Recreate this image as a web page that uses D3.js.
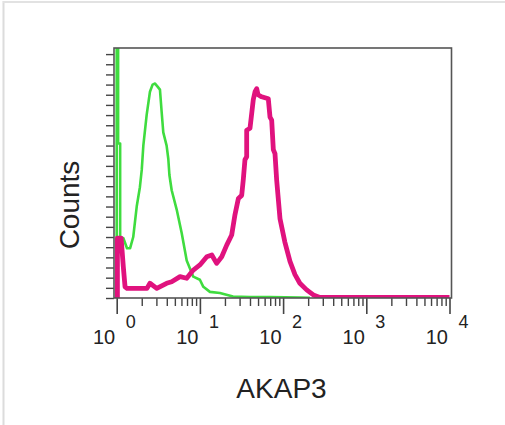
<!DOCTYPE html>
<html>
<head>
<meta charset="utf-8">
<script src="https://cdn.jsdelivr.net/npm/d3@7"></script>
<style>
  body { margin: 0; background: #fff; }
  text { font-family: "Liberation Sans", Arial, sans-serif; fill: #222; }
</style>
</head>
<body>
<svg id="chart" width="505" height="425"></svg>
<script>
// decades on the log intensity axis
const decades = [1, 10, 100, 1000, 10000];
const exponents = ['0', '1', '2', '3', '4'];

// isotype control (green)
const greenX = [1.0, 1.0, 1.04, 1.04, 1.1, 1.1, 1.2, 1.33, 1.45, 1.58, 1.74, 1.9, 2.0, 2.09, 2.29, 2.51, 2.7, 2.89, 3.1, 3.31, 3.47, 3.63, 3.98, 4.17, 4.3, 4.58, 5.26, 6.04, 6.94, 8.33, 10, 11, 13.2, 17.4, 25, 40, 69, 160, 210];
const greenY = [0, 270, 270, 152, 152, 59, 59, 49, 49, 60, 90, 109, 126, 150, 180, 203, 210, 211, 208, 205, 183, 163, 150, 137, 121, 106, 87, 64, 37, 21, 18, 11, 6, 5, 1.5, 1, 1, 0.5, 0.3];

// AKAP3 stained (magenta)
const magX = [1.0, 1.02, 1.02, 1.13, 1.2, 1.26, 1.33, 2.31, 2.51, 3.03, 3.98, 4.58, 5.77, 6.94, 8.33, 10, 12.1, 13.9, 15.9, 18.3, 21.0, 24.1, 26.4, 29.0, 31.8, 33.2, 34.8, 36.5, 36.5, 40, 42, 43.8, 46, 48.2, 50, 55.3, 66.4, 69.6, 72.9, 76.3, 79.9, 83.7, 86.8, 91.8, 105, 121, 139, 159, 192, 231, 277, 10000];
const magY = [0, 0, 59, 59, 31, 11, 9.5, 9.5, 14.5, 9.5, 14.5, 16, 21, 19.4, 27.5, 32.5, 40.6, 42.3, 34.1, 40.6, 52, 62, 82, 98, 101, 116, 136, 139, 165, 167, 182, 195, 203, 206, 200, 198, 196, 178, 175, 146, 142, 116, 101, 78, 55, 36, 23, 14.5, 8, 3, 0.5, 0.5];

const svg = d3.select('#chart');

// faint frame of the picture
svg.append('line').attr('x1', 3.5).attr('x2', 3.5).attr('y1', 1).attr('y2', 425)
    .attr('stroke', '#dcdcdc').attr('stroke-width', 2);
svg.append('line').attr('x1', 3).attr('x2', 505).attr('y1', 2).attr('y2', 2)
    .attr('stroke', '#e2e2e2').attr('stroke-width', 2);

const box = { left: 114, right: 451.5, top: 48, bottom: 298 };

const x = d3.scaleLog().domain([1, 10000]).range([116.7, 449.5]);
const y = d3.scaleLinear().domain([0, 246]).range([box.bottom, box.top]);

svg.append('clipPath').attr('id', 'clip')
    .append('rect')
    .attr('x', box.left).attr('y', box.top)
    .attr('width', box.right - box.left).attr('height', box.bottom - box.top);

// y ticks (no labels)
const yAxis = svg.append('g')
    .attr('transform', `translate(${box.left},0)`)
    .call(d3.axisLeft(y).tickValues(d3.range(0, 241, 10)).tickSize(8).tickFormat(''));
yAxis.select('.domain').remove();
yAxis.selectAll('line').attr('stroke', '#444').attr('stroke-width', 1.4);

// x ticks: minor and major
const minor = [];
decades.slice(0, -1).forEach(d => { for (let k = 2; k <= 9; k++) minor.push(d * k); });
const xMinor = svg.append('g')
    .attr('transform', `translate(0,${box.bottom})`)
    .call(d3.axisBottom(x).tickValues(minor).tickSize(8).tickFormat(''));
xMinor.select('.domain').remove();
xMinor.selectAll('line').attr('stroke', '#444').attr('stroke-width', 1.4);

const xMajor = svg.append('g')
    .attr('transform', `translate(0,${box.bottom})`)
    .call(d3.axisBottom(x).tickValues(decades).tickSize(16).tickFormat(''));
xMajor.select('.domain').remove();
xMajor.selectAll('line').attr('stroke', '#444').attr('stroke-width', 1.6);

// decade labels 10^n
const lab = svg.append('g');
decades.forEach((d, i) => {
    lab.append('text')
        .attr('x', x(d) - 1.5).attr('y', 344)
        .attr('text-anchor', 'end')
        .attr('font-size', 20)
        .text('10');
    lab.append('text')
        .attr('x', x(d) + 9).attr('y', 328)
        .attr('font-size', 18)
        .text(exponents[i]);
});

// histograms
const line = d3.line()
    .x(d => x(d[0]))
    .y(d => y(d[1]));

const plot = svg.append('g').attr('clip-path', 'url(#clip)');

plot.append('path')
    .datum(greenX.map((v, i) => [v, greenY[i]]))
    .attr('d', line)
    .attr('fill', 'none')
    .attr('stroke', '#3fdc3f')
    .attr('stroke-width', 2.6)
    .attr('stroke-linejoin', 'round');

plot.append('path')
    .datum(magX.map((v, i) => [v, magY[i]]))
    .attr('d', line)
    .attr('fill', 'none')
    .attr('stroke', '#e0127e')
    .attr('stroke-width', 4.8)
    .attr('stroke-linejoin', 'round');

// frame of the plot
svg.append('rect')
    .attr('x', box.left).attr('y', box.top)
    .attr('width', box.right - box.left).attr('height', box.bottom - box.top)
    .attr('fill', 'none')
    .attr('stroke', '#555')
    .attr('stroke-width', 1.6);

// axis titles
svg.append('text')
    .attr('transform', 'translate(79,205) rotate(-90)')
    .attr('text-anchor', 'middle')
    .attr('font-size', 28)
    .text('Counts');

svg.append('text')
    .attr('x', 281.5).attr('y', 398)
    .attr('text-anchor', 'middle')
    .attr('font-size', 28)
    .text('AKAP3');
</script>
</body>
</html>
